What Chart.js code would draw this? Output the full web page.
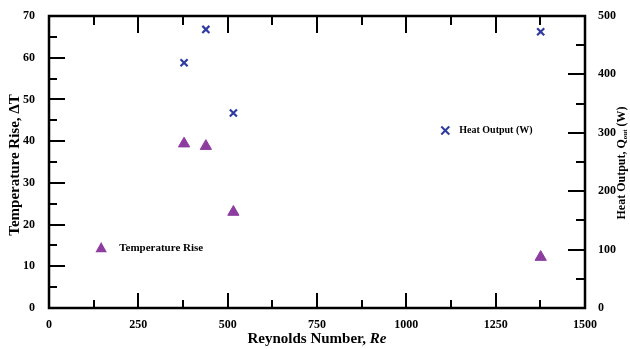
<!DOCTYPE html>
<html>
<head>
<meta charset="utf-8">
<script src="https://cdn.jsdelivr.net/npm/chart.js@4.4.1/dist/chart.umd.min.js"></script>
<style>
html,body{margin:0;padding:0;background:#fff;}
#wrap{width:630px;height:349px;position:relative;}
</style>
</head>
<body>
<div id="wrap"><canvas id="c" width="630" height="349"></canvas></div>
<script>
// ---- data ----
const reynolds = [378, 439, 516, 1376];
const tempRise = [39.4, 38.8, 23.0, 12.2];
const heatOutput = [420, 477, 334, 473];

const xMajorTicks = [0, 250, 500, 750, 1000, 1250, 1500];
const xMinorTicks = [125, 375, 625, 875, 1125, 1375];
const yLeftMajorTicks = [0, 10, 20, 30, 40, 50, 60, 70];
const yLeftMinorTicks = [5, 15, 25, 35, 45, 55, 65];
const yRightMajorTicks = [0, 100, 200, 300, 400, 500];
const yRightMinorTicks = [50, 150, 250, 350, 450];

const seriesNames = ['Temperature Rise', 'Heat Output (W)'];
const xTitle = ['Reynolds Number, ', 'Re'];
const yLeftTitle = 'Temperature Rise, \u0394T';
const yRightTitle = ['Heat Output, Q', 'out', ' (W)'];

const purple = '#8c3d9e';
const blue = '#2f3b9f';
const serif = '"Liberation Serif", "Times New Roman", serif';

const tickPlugin = {
  id: 'inwardTicks',
  afterDraw(chart) {
    const ctx = chart.ctx;
    const a = chart.chartArea;
    const x = chart.scales.x, yl = chart.scales.y, yr = chart.scales.y2;
    ctx.save();
    ctx.strokeStyle = '#000';
    ctx.lineWidth = 2;
    const seg = (x1, y1, x2, y2) => { ctx.beginPath(); ctx.moveTo(x1, y1); ctx.lineTo(x2, y2); ctx.stroke(); };
    xMajorTicks.forEach(v => { const p = Math.round(x.getPixelForValue(v)); seg(p, a.bottom, p, a.bottom - 15); seg(p, a.top, p, a.top + 17); });
    xMinorTicks.forEach(v => { const p = Math.round(x.getPixelForValue(v)); seg(p, a.bottom, p, a.bottom - 8); seg(p, a.top, p, a.top + 9); });
    yLeftMajorTicks.forEach(v => { const p = Math.round(yl.getPixelForValue(v)); seg(a.left, p, a.left + 16, p); });
    yLeftMinorTicks.forEach(v => { const p = Math.round(yl.getPixelForValue(v)); seg(a.left, p, a.left + 8, p); });
    yRightMajorTicks.forEach(v => { const p = Math.round(yr.getPixelForValue(v)); seg(a.right, p, a.right - 17, p); });
    yRightMinorTicks.forEach(v => { const p = Math.round(yr.getPixelForValue(v)); seg(a.right, p, a.right - 9, p); });
    // frame
    ctx.lineWidth = 2.5;
    ctx.strokeRect(a.left, a.top, a.right - a.left, a.bottom - a.top);

    // x title
    ctx.fillStyle = '#000';
    ctx.textBaseline = 'middle';
    ctx.font = 'bold 15px ' + serif;
    const w1 = ctx.measureText(xTitle[0]).width;
    ctx.font = 'italic bold 15px ' + serif;
    const w2 = ctx.measureText(xTitle[1]).width;
    const cx = (a.left + a.right) / 2;
    let sx = cx - (w1 + w2) / 2;
    ctx.font = 'bold 15px ' + serif;
    ctx.textAlign = 'left';
    ctx.fillText(xTitle[0], sx, 339);
    ctx.font = 'italic bold 15px ' + serif;
    ctx.fillText(xTitle[1], sx + w1, 339);

    // left title
    ctx.save();
    ctx.translate(15, 165);
    ctx.rotate(-Math.PI / 2);
    ctx.font = 'bold 15px ' + serif;
    ctx.textAlign = 'center';
    ctx.fillText(yLeftTitle, 0, 0);
    ctx.restore();

    // right title
    ctx.save();
    ctx.translate(622, 163);
    ctx.rotate(-Math.PI / 2);
    ctx.font = 'bold 12px ' + serif;
    const r1 = ctx.measureText(yRightTitle[0]).width;
    ctx.font = 'bold 7px ' + serif;
    const r2 = ctx.measureText(yRightTitle[1]).width;
    ctx.font = 'bold 12px ' + serif;
    const r3 = ctx.measureText(yRightTitle[2]).width;
    let rx = -(r1 + r2 + r3) / 2;
    ctx.textAlign = 'left';
    ctx.fillText(yRightTitle[0], rx, 0);
    ctx.font = 'bold 7px ' + serif;
    ctx.fillText(yRightTitle[1], rx + r1, 3);
    ctx.font = 'bold 12px ' + serif;
    ctx.fillText(yRightTitle[2], rx + r1 + r2, 0);
    ctx.restore();

    // legends inside plot
    const drawTri = (px, py, r) => {
      ctx.beginPath();
      ctx.moveTo(px, py - r);
      ctx.lineTo(px + r * 0.95, py + r * 0.7);
      ctx.lineTo(px - r * 0.95, py + r * 0.7);
      ctx.closePath();
      ctx.fillStyle = purple; ctx.fill();
    };
    const lx1 = x.getPixelForValue(146), ly1 = yl.getPixelForValue(14.4);
    drawTri(lx1, ly1, 6);
    ctx.fillStyle = '#000';
    ctx.font = 'bold 11px ' + serif;
    ctx.textAlign = 'left';
    ctx.fillText(seriesNames[0], lx1 + 18, ly1);
    const lx2 = x.getPixelForValue(1109), ly2 = yr.getPixelForValue(304);
    ctx.strokeStyle = blue; ctx.lineWidth = 2;
    seg(lx2 - 4, ly2 - 4, lx2 + 4, ly2 + 4);
    seg(lx2 - 4, ly2 + 4, lx2 + 4, ly2 - 4);
    ctx.fillStyle = '#000';
    ctx.font = 'bold 10px ' + serif;
    ctx.fillText(seriesNames[1], lx2 + 14, ly2);
    ctx.restore();
  }
};

const plain = v => String(v);

new Chart(document.getElementById('c'), {
  type: 'scatter',
  data: {
    datasets: [
      {
        label: seriesNames[0],
        data: reynolds.map((r, i) => ({ x: r, y: tempRise[i] })),
        yAxisID: 'y',
        pointStyle: 'triangle',
        pointRadius: 6.5,
        backgroundColor: purple,
        borderColor: purple,
        borderWidth: 1
      },
      {
        label: seriesNames[1],
        data: reynolds.map((r, i) => ({ x: r, y: heatOutput[i] })),
        yAxisID: 'y2',
        pointStyle: 'crossRot',
        pointRadius: 5,
        borderColor: blue,
        backgroundColor: blue,
        borderWidth: 2.2
      }
    ]
  },
  options: {
    responsive: false,
    animation: false,
    layout: { padding: { top: 16, left: 0, right: 0, bottom: 0 } },
    plugins: { legend: { display: false }, tooltip: { enabled: false } },
    scales: {
      x: {
        type: 'linear', min: 0, max: 1500,
        grid: { display: false },
        border: { display: false },
        afterBuildTicks: s => { s.ticks = xMajorTicks.map(v => ({ value: v })); },
        ticks: { color: '#000', font: { family: serif, size: 12, weight: 'bold' }, padding: 2, callback: plain },
        afterFit: s => { s.height = 41; }
      },
      y: {
        type: 'linear', position: 'left', min: 0, max: 70,
        grid: { display: false },
        border: { display: false },
        afterBuildTicks: s => { s.ticks = yLeftMajorTicks.map(v => ({ value: v })); },
        ticks: { color: '#000', font: { family: serif, size: 12, weight: 'bold' }, padding: 6, callback: plain },
        afterFit: s => { s.width = 49; }
      },
      y2: {
        type: 'linear', position: 'right', min: 0, max: 500,
        grid: { display: false },
        border: { display: false },
        afterBuildTicks: s => { s.ticks = yRightMajorTicks.map(v => ({ value: v })); },
        ticks: { color: '#000', font: { family: serif, size: 12, weight: 'bold' }, padding: 5, callback: plain },
        afterFit: s => { s.width = 45; }
      }
    }
  },
  plugins: [tickPlugin]
});
</script>
</body>
</html>
